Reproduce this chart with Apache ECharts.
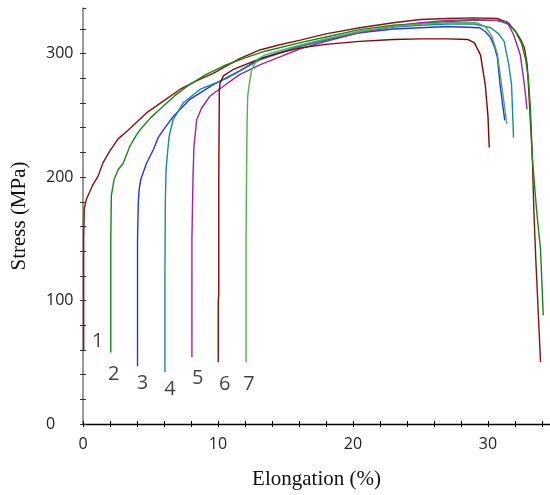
<!DOCTYPE html>
<html>
<head>
<meta charset="utf-8">
<script src="https://cdn.jsdelivr.net/npm/echarts@6/dist/echarts.min.js"></script>
<style>
html,body{margin:0;padding:0;background:#fff;}
#chart{width:550px;height:495px;}
</style>
</head>
<body>
<div id="chart"></div>
<script>
// Curve data: [elongation %, stress MPa]
const curve1 = [[0.05,60],[0.05,150],[0.1,175],[0.25,182],[0.74,194],[1.11,200.6],[1.5,212],[1.98,221],[2.6,231],[3.34,238],[4.7,252],[6,262],[7.18,271],[8.4,278],[9.65,284],[11.6,296],[13.1,303],[14.5,307],[16.1,311],[18,316],[20.5,321],[23,325],[25,327.7],[27,328.5],[29,329],[30.7,328.5],[31.5,325],[32.05,318],[32.4,312],[32.7,305],[32.9,292],[33.0,275],[33.1,255],[33.3,214],[33.4,174],[33.55,133],[33.9,50]];
const curve2 = [[2.06,58],[2.06,150],[2.1,185],[2.3,198],[2.6,206],[2.97,211],[3.47,225],[3.84,232],[4.2,238],[5.0,248],[5.7,255],[6.8,266],[7.9,275],[9.1,283],[10.4,290],[12.1,297],[13.5,302],[16.1,309],[18,313.5],[20.5,319.5],[23,323],[25,324.5],[27,326],[29,327],[30.7,327],[31.5,324],[32.05,318],[32.5,308],[32.8,295],[33.0,280],[33.15,255],[33.3,214],[33.6,174],[33.9,141],[34.1,88]];
const curve3 = [[4.04,47],[4.04,150],[4.1,180],[4.16,190],[4.28,198],[4.7,211],[5.2,222],[5.57,232],[5.94,238],[6.68,249],[7.92,263],[9.65,275],[11.6,286],[13.1,296],[16.1,306],[18,311],[20.5,317],[23,320],[25,321],[27,322],[29.4,321],[29.8,318],[30.2,313],[30.5,305],[30.7,297],[30.9,275],[31.1,258],[31.25,246]];
const curve4 = [[6.07,42],[6.07,120],[6.1,180],[6.15,205],[6.24,217],[6.38,233],[6.68,246.5],[7.42,260],[8.66,271],[10.65,280],[13.1,295],[16.1,306],[18,311.5],[20.5,318],[23,321.5],[25,323],[27,324],[29,324],[30.2,321],[30.8,316],[31.2,310],[31.55,291],[31.75,275],[31.9,232]];
const curve5 = [[8.07,54],[8.07,150],[8.15,200],[8.22,225],[8.29,232],[8.42,246.5],[8.79,256],[9.4,265.5],[10.4,273.6],[11.6,283],[13.1,291],[14.5,297],[16.1,304],[18,310],[20.5,317],[23,322],[25,325],[27,327],[29,327.5],[30.5,327],[31.4,326],[31.9,315.5],[32.4,299],[32.7,275],[32.9,255]];
const curve6 = [[10.02,50],[10.02,100],[10.06,105],[10.06,200],[10.1,270],[10.15,276],[10.4,282],[11.1,287],[12.9,295],[14.5,300.5],[16.1,304.7],[18,307.5],[20.5,310],[23,311.5],[25,312],[27,312],[28.5,311.5],[29,308.7],[29.45,299],[29.8,275],[30.0,250],[30.1,224]];
const curve7 = [[12.08,50],[12.08,150],[12.15,240],[12.2,265],[12.3,274],[12.5,287],[12.87,295],[13.5,299],[16.1,307],[18,312],[20.5,318],[23,322],[25,324],[27,325],[29.2,325],[29.8,322],[30.3,314],[30.7,300],[30.95,280],[31.2,260],[31.4,243]];

const curveNames = ['1','2','3','4','5','6','7'];
const labelX = [1.09, 2.28, 4.4, 6.45, 8.5, 10.5, 12.3];
const labelY = [67, 40.5, 33, 28, 37, 32, 32.5];

const yTickLabels = [0, 100, 200, 300];
const xTickLabels = [0, 10, 20, 30];

const colors = ['#8b1010','#108a10','#2030ff','#10908f','#a020a8','#8b0000','#50b050'];
const curves = [curve1, curve2, curve3, curve4, curve5, curve6, curve7];

const chart = echarts.init(document.getElementById('chart'), null, {renderer:'canvas'});

const series = curves.map((c, i) => ({
  type: 'line', name: curveNames[i], data: c, showSymbol: false, symbol: 'none',
  smooth: false, lineStyle: {color: colors[i], width: 1.4}, z: 3 + i, silent: true
}));
series.push({
  type: 'scatter', symbolSize: 0, silent: true,
  data: curveNames.map((n, i) => [labelX[i], labelY[i], n]),
  label: {show: true, position: 'inside', formatter: p => p.value[2], color: '#111',
          fontSize: 20, fontFamily: 'Open Sans'}
});

const axisTextStyle = {color: '#222', fontSize: 16, fontFamily: 'Open Sans'};

chart.setOption({
  animation: false,
  backgroundColor: '#fff',
  grid: {left: 83, right: 0, top: 8, bottom: 71, containLabel: false, outerBoundsMode: 'none'},
  xAxis: [{
    type: 'value', min: 0, max: 34.6, interval: 2,
    name: 'Elongation (%)', nameLocation: 'middle', nameGap: 45,
    nameTextStyle: {fontFamily: 'Liberation Serif', fontSize: 21, color: '#111'},
    axisLine: {onZero: false, lineStyle: {color: '#000', width: 1.3}},
    axisTick: {show: true, length: 3, lineStyle: {color: '#000'}},
    axisLabel: Object.assign({margin: 12, showMaxLabel: false,
      formatter: v => xTickLabels.indexOf(v) >= 0 ? String(v) : ''}, axisTextStyle),
    splitLine: {show: false}
  }, {
    type: 'value', min: 0, max: 34.6, interval: 2, position: 'bottom',
    axisLine: {show: false}, axisTick: {show: true, inside: true, length: 3, lineStyle: {color: '#000'}},
    axisLabel: {show: false}, splitLine: {show: false}
  }],
  yAxis: [{
    type: 'value', min: 0, max: 337, interval: 20,
    name: 'Stress (MPa)', nameLocation: 'middle', nameGap: 53, nameRotate: 90,
    nameTextStyle: {fontFamily: 'Liberation Serif', fontSize: 21, color: '#111'},
    axisLine: {onZero: false, lineStyle: {color: '#808080', width: 1.6}},
    axisTick: {show: true, length: 3, lineStyle: {color: '#333'}},
    axisLabel: Object.assign({margin: 37, align: 'left', showMaxLabel: false,
      formatter: v => yTickLabels.indexOf(v) >= 0 ? String(v) : ''}, axisTextStyle),
    splitLine: {show: false}
  }, {
    type: 'value', min: 0, max: 337, interval: 20, position: 'left',
    axisLine: {show: false}, axisTick: {show: true, inside: true, length: 3, lineStyle: {color: '#333'}},
    axisLabel: {show: false}, splitLine: {show: false}
  }],
  series: series
});
</script>
</body>
</html>
